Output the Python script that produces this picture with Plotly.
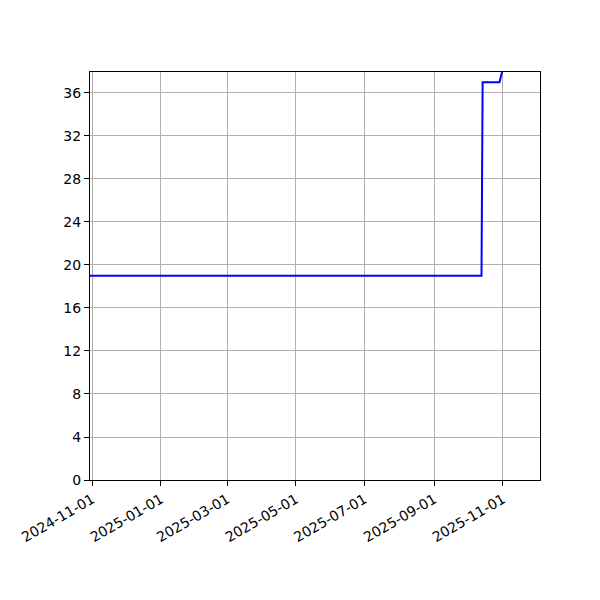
import plotly.graph_objects as go

dates = ["2024-10-30", "2025-10-13", "2025-10-14", "2025-10-29", "2025-11-05"]
values = [19, 19, 37, 37, 40]

x_ticks = ["2024-11-01", "2025-01-01", "2025-03-01", "2025-05-01",
           "2025-07-01", "2025-09-01", "2025-11-01"]
y_ticks = list(range(0, 37, 4))

fig = go.Figure()
fig.add_trace(go.Scatter(x=dates, y=values, mode="lines",
                         line=dict(color="blue", width=2)))

axis_style = dict(showline=True, linecolor="black", linewidth=1, mirror=True,
                  ticks="outside", ticklen=5, tickcolor="black",
                  showgrid=True, gridcolor="#b0b0b0", gridwidth=1,
                  zeroline=False, tickfont=dict(size=14, color="black"))

fig.update_xaxes(type="date", range=["2024-10-30", "2025-12-04"],
                 tickvals=x_ticks, ticktext=x_ticks, tickangle=-30, **axis_style)
fig.update_yaxes(range=[0, 37.95], tickvals=y_ticks, **axis_style)

# page body adds an 8px offset, so margins are shifted to compensate
fig.update_layout(width=600, height=600, showlegend=False,
                  plot_bgcolor="white", paper_bgcolor="white",
                  font=dict(family="DejaVu Sans"),
                  margin=dict(l=82, r=68, t=64, b=128))

fig.write_html("out.html")
